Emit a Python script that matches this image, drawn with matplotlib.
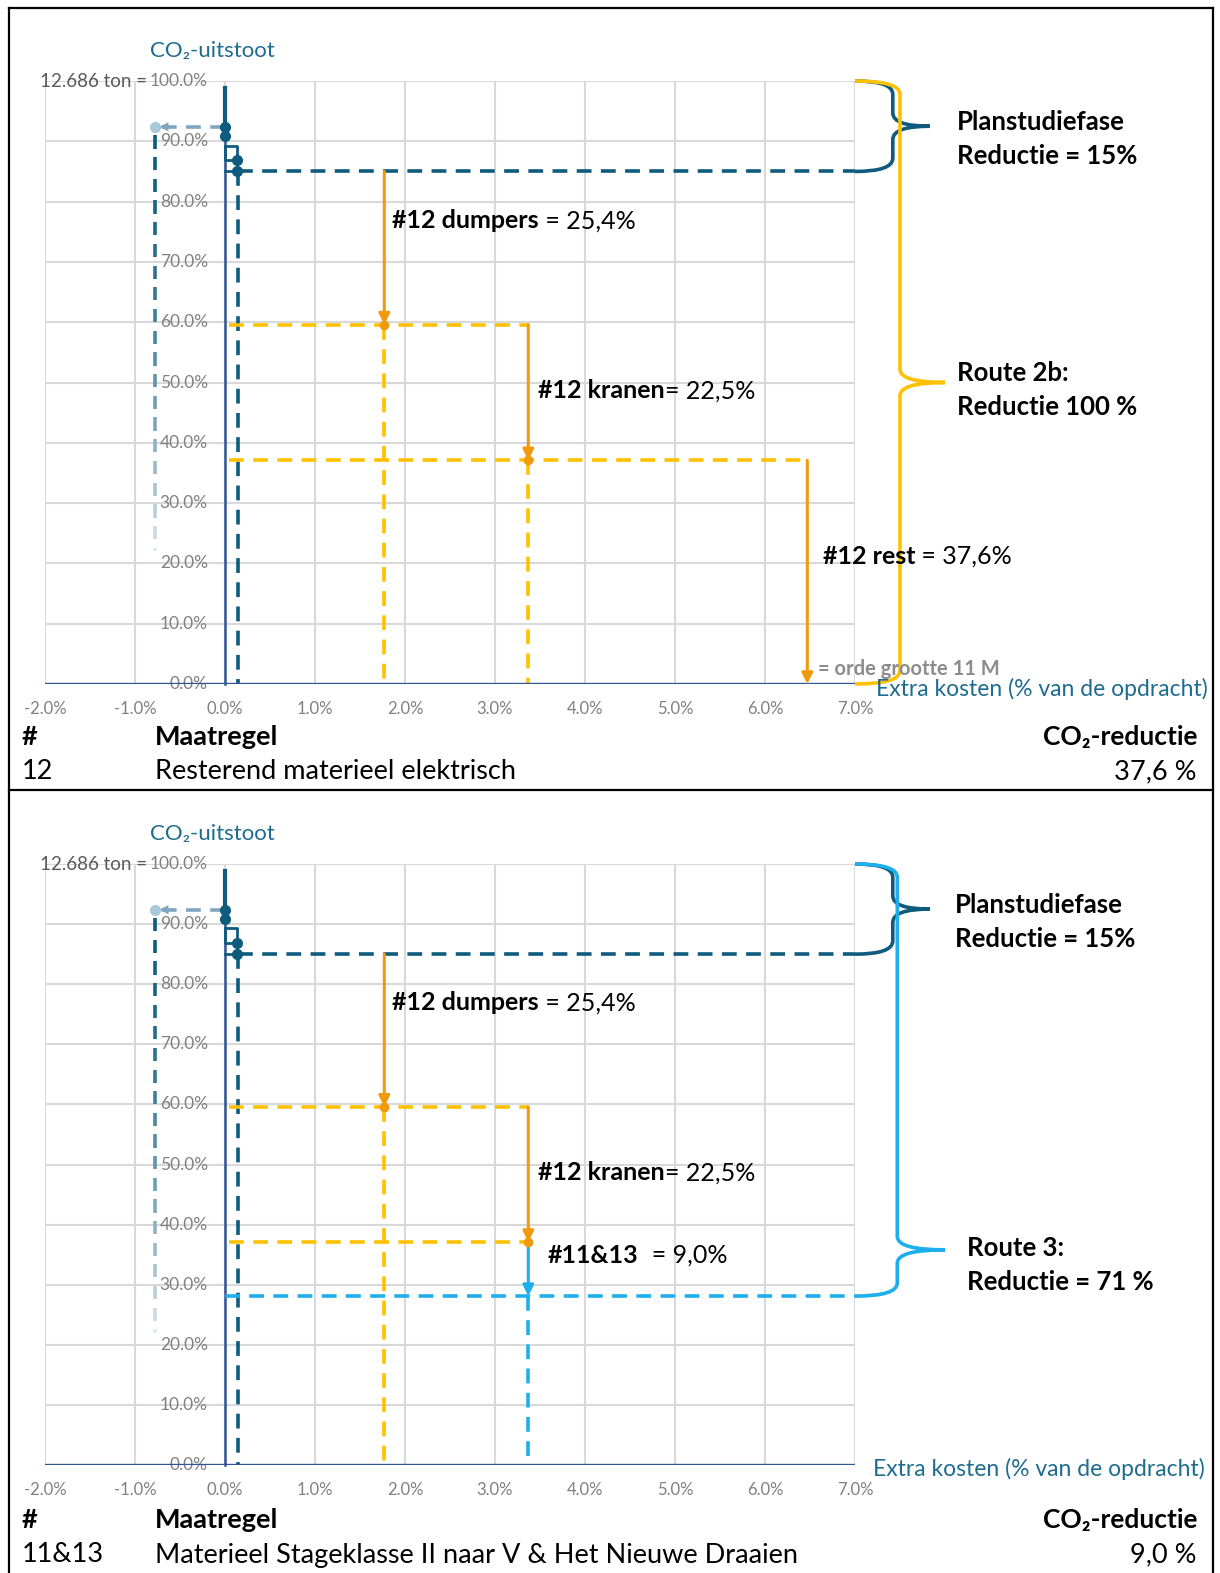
import numpy as np
import matplotlib
matplotlib.use("Agg")
import matplotlib.pyplot as plt
from matplotlib.lines import Line2D
from matplotlib.path import Path
from matplotlib.patches import PathPatch
from matplotlib.collections import LineCollection
from matplotlib.colors import to_rgb

plt.rcParams['font.family'] = ['Lato', 'DejaVu Sans']

# --- data -------------------------------------------------------------
x_ticks = [-2, -1, 0, 1, 2, 3, 4, 5, 6, 7]
y_ticks = [0, 10, 20, 30, 40, 50, 60, 70, 80, 90, 100]
total_emission = "12.686 ton"

planstudie_reductie = 15.0
# small planstudie measures close to zero cost
early_x = [0.0, 0.0, 0.13, 0.13]
early_y = [92.4, 90.9, 86.9, 85.1]
saving_x = -0.78          # measure with negative cost
saving_y = 92.4

top_steps = ["#12 dumpers", "#12 kranen", "#12 rest"]
top_reductions = [25.4, 22.5, 37.6]
top_cost = [1.77, 3.37, 6.47]

bottom_steps = ["#12 dumpers", "#12 kranen", "#11&13"]
bottom_reductions = [25.4, 22.5, 9.0]
bottom_cost = [1.77, 3.37, 3.37]

top_measure = ("12", "Resterend materieel elektrisch", "37,6 %")
bottom_measure = ("11&13", "Materieel Stageklasse II naar V & Het Nieuwe Draaien", "9,0 %")

# --- styling ----------------------------------------------------------
W, H = 1220, 1573
TEAL = '#0F5B7D'
AXBLUE = '#2F5597'
YEL = '#FFC000'
ORA = '#F29A0E'
CYAN = '#1DAFEC'
GRID = '#D9D9D9'
GREY = '#808080'
TITLE = '#1E6C90'
DASH = (0, (4.1, 2.6))

fig = plt.figure(figsize=(W / 100, H / 100), dpi=100)


def ftext(px, py, s, **kw):
    return fig.text(px / W, 1 - py / H, s, **kw)


def fline(xs, ys, **kw):
    fig.add_artist(Line2D([x / W for x in xs], [1 - y / H for y in ys],
                          transform=fig.transFigure, **kw))


def brace(ax, y_top, y_bot, x0, xs, xt, yt, color, r=2.0):
    verts = [(x0, y_top), (xs, y_top), (xs, y_top - r),
             (xs, yt + r), (xs, yt), (xt, yt),
             (xs, yt), (xs, yt - r),
             (xs, y_bot + r), (xs, y_bot), (x0, y_bot)]
    codes = [Path.MOVETO, Path.CURVE3, Path.CURVE3,
             Path.LINETO, Path.CURVE3, Path.CURVE3,
             Path.CURVE3, Path.CURVE3,
             Path.LINETO, Path.CURVE3, Path.CURVE3]
    ax.add_patch(PathPatch(Path(verts, codes), fill=False, edgecolor=color,
                           lw=2.6, clip_on=False, zorder=4))


def fading_dash(ax, x, y0, y1, c0, c1, on=2.2, off=1.4):
    starts = np.arange(y0, y1, -(on + off))
    segs, cols = [], []
    a, b = np.array(to_rgb(c0)), np.array(to_rgb(c1))
    for s in starts:
        e = max(s - on, y1)
        t = ((y0 - s) / (y0 - y1)) ** 1.6
        segs.append([(x, s), (x, e)])
        cols.append(a + (b - a) * t)
    ax.add_collection(LineCollection(segs, colors=cols, lw=2.6, zorder=3,
                                     capstyle='butt'))


def value_label(ax, x, y, head, sep, value):
    t1 = ax.text(x, y, head, fontsize=18, fontweight='bold', va='center',
                 ha='left', zorder=6)
    ax.annotate(sep + f"{value:.1f}".replace('.', ',') + "%", xy=(1, 0),
                xycoords=t1, va='bottom', ha='left', fontsize=18, zorder=6)


def panel(top_px, bottom_px, steps, reductions, cost, seps, label_pos,
          colors, end_route):
    ax = fig.add_axes([45 / W, 1 - bottom_px / H, 810 / W, (bottom_px - top_px) / H])
    ax.set_xlim(-2, 7)
    ax.set_ylim(0, 100)
    for s in ax.spines.values():
        s.set_visible(False)
    ax.set_yticks([])
    ax.set_xticks(x_ticks)
    ax.set_xticklabels([f"{v:.1f}%" for v in x_ticks])
    ax.tick_params(axis='x', length=0, pad=12, labelsize=12, labelcolor=GREY)

    ax.vlines(x_ticks, 0, 100, color=GRID, lw=1.5, zorder=0)
    ax.hlines(y_ticks, -2, 7, color=GRID, lw=1.5, zorder=0)
    for v in y_ticks:
        ax.text(-0.19, v, f"{v:.1f}%", ha='right', va='center', fontsize=12.5,
                color=GREY, zorder=1)
    ax.text(-0.86, 100, total_emission + " =", ha='right', va='center',
            fontsize=13.5, color='#595959')
    ax.text(-0.83, 105, "CO\u2082-uitstoot", ha='left', va='center',
            fontsize=16, color=TITLE, clip_on=False)

    ax.axhline(0, color=AXBLUE, lw=2.4, zorder=5)
    ax.plot([0, 0], [0, 98.8], color=AXBLUE, lw=1.8, zorder=2, clip_on=False)

    # planstudie phase near zero cost
    start = 100 - planstudie_reductie
    ax.plot([0, 0], [98.8, 90.5], color=TEAL, lw=3, zorder=5, clip_on=False)
    ax.plot([0, 0.13, 0.13], [89.3, 89.3, 86.9], color=TEAL, lw=2, zorder=5)
    ax.plot([0, 0, 0.13], [89.3, 86.9, 86.9], color=TEAL, lw=2, zorder=5)
    ax.plot([0, 0.13], [85.1, 85.1], color=TEAL, lw=2, zorder=5)
    ax.plot(early_x, early_y, 'o', color=TEAL, ms=7, zorder=6)
    ax.plot([0, saving_x], [saving_y, saving_y], color='#7FA6BE', lw=2.6,
            ls=DASH, zorder=4)
    ax.annotate('', xy=(saving_x + 0.05, saving_y), xytext=(saving_x + 0.3, saving_y),
                arrowprops=dict(arrowstyle='-|>', color='#7FA6BE', lw=0.1,
                                mutation_scale=16, shrinkA=0, shrinkB=0), zorder=4)
    ax.plot([saving_x], [saving_y], 'o', color='#A9C9D8', ms=7, zorder=5)
    fading_dash(ax, saving_x, 91.0, 22.0, TEAL, '#DDE9EF')
    ax.plot([0.15, 0.15], [start, 0], color=TEAL, lw=2.6, ls=DASH, zorder=3)
    ax.plot([0.15, 7.0], [start, start], color=TEAL, lw=2.6, ls=DASH, zorder=3,
            clip_on=False)

    # reduction steps
    levels = [start]
    for r in reductions:
        levels.append(max(levels[-1] - r, 0))
    n = len(steps)
    for i in range(n):
        x, y0, y1 = cost[i], levels[i], levels[i + 1]
        ax.annotate('', xy=(x, y1), xytext=(x, y0),
                    arrowprops=dict(arrowstyle='-|>', color=colors[i], lw=2.2,
                                    mutation_scale=16, shrinkA=0, shrinkB=0),
                    zorder=5, annotation_clip=False)
        value_label(ax, label_pos[i][0], label_pos[i][1], steps[i], seps[i],
                    reductions[i])
        if i < n - 1:
            if colors[i] == ORA:
                ax.plot([x], [y1], 'o', color=ORA, ms=6, zorder=6)
            ax.plot([0.05, cost[i + 1]], [y1, y1], color=YEL, lw=2.6, ls=DASH,
                    zorder=3)
            if cost[i + 1] != x:
                ax.plot([x, x], [y1, 0], color=YEL, lw=2.6, ls=DASH, zorder=3)
    end = levels[-1]
    if end > 0:
        ax.plot([0, 7.0], [end, end], color=colors[-1], lw=2.6, ls=DASH,
                zorder=3, clip_on=False)
        ax.plot([cost[-1], cost[-1]], [end, 0], color=colors[-1], lw=2.6,
                ls=DASH, zorder=3)

    brace(ax, 100, start, 7.0, 7.42, 7.83, 92.5, TEAL, r=2.2)
    brace(ax, 100, end, 7.0, end_route[0], 8.0, end_route[1], end_route[2],
          r=2.2)
    return ax


ax1 = panel(81, 684, top_steps, top_reductions, top_cost,
            [" = ", "= ", " = "],
            [(1.86, 76.8), (3.48, 48.6), (6.64, 21.2)],
            [ORA, ORA, ORA], (7.5, 50.0, YEL))
ax1.text(6.59, 2.5, "= orde grootte 11 M", fontsize=14.5, fontweight='bold',
         color='#8C8C8C', ha='left', va='center', zorder=7, clip_on=False)

ax2 = panel(864, 1465, bottom_steps, bottom_reductions, bottom_cost,
            [" = ", "= ", "  = "],
            [(1.86, 76.9), (3.48, 48.6), (3.59, 34.9)],
            [ORA, ORA, CYAN], (7.47, 35.8, CYAN))

# side annotations
side = dict(fontsize=18.5, fontweight='bold', ha='left', va='center')
ftext(957, 122, "Planstudiefase", **side)
ftext(957, 156, "Reductie = 15%", **side)
ftext(957, 373, "Route 2b:", **side)
ftext(957, 407, "Reductie 100 %", **side)
ftext(955, 905, "Planstudiefase", **side)
ftext(955, 939, "Reductie = 15%", **side)
ftext(967, 1248, "Route 3:", **side)
ftext(967, 1282, "Reductie = 71 %", **side)

ftext(1208, 689, "Extra kosten (% van de opdracht)", fontsize=16.5, color=TITLE,
      ha='right', va='center')
ftext(1205, 1469, "Extra kosten (% van de opdracht)", fontsize=16.5, color=TITLE,
      ha='right', va='center')

# measure tables under each chart
for y0, (num, name, red) in [(737, top_measure), (1520, bottom_measure)]:
    ftext(22, y0, "#", fontsize=19.5, fontweight='bold', va='center')
    ftext(155, y0, "Maatregel", fontsize=19.5, fontweight='bold', va='center')
    ftext(1197, y0, "CO\u2082-reductie", fontsize=19, fontweight='bold',
          va='center', ha='right')
    ftext(22, y0 + 35, num, fontsize=19.5, va='center')
    ftext(155, y0 + 35, name, fontsize=19.5, va='center')
    ftext(1197, y0 + 35, red, fontsize=19.5, va='center', ha='right')

# frame
fline([9, 1213], [8, 8], color='black', lw=1.6)
fline([9, 9], [8, 1573], color='black', lw=1.6)
fline([1213, 1213], [8, 1573], color='black', lw=1.6)
fline([9, 1213], [790, 790], color='black', lw=1.6)

fig.savefig("out.png", dpi=100)
